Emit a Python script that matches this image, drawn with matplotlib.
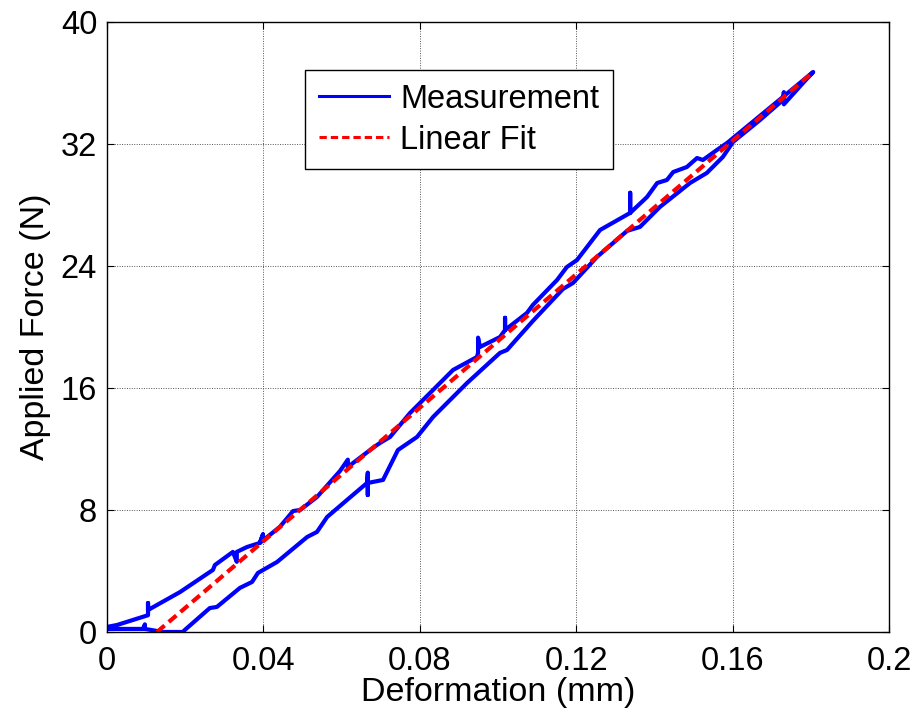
"""Force vs deformation loop with linear fit (MATLAB-style figure)."""

import matplotlib
matplotlib.use("Agg")
import matplotlib.pyplot as plt
import numpy as np

# Measurement loop: loading branch (lower), common top, unloading branch (upper)
load_x = [0.0, 0.0092, 0.0097, 0.0097, 0.0143, 0.0194, 0.0199, 0.0263, 0.0281,
          0.0340, 0.0371, 0.0386, 0.0435, 0.0512, 0.0537, 0.0563, 0.0614,
          0.0665, 0.0667, 0.0667, 0.0667, 0.0706, 0.0744, 0.0793, 0.0834,
          0.0921, 0.1005, 0.1023, 0.1089, 0.1166, 0.1192, 0.1253, 0.1330,
          0.1363, 0.1414, 0.1491, 0.1534, 0.1575, 0.1601]
load_y = [0.20, 0.20, 0.50, 0.20, 0.0, 0.0, 0.13, 1.57, 1.64,
          2.89, 3.28, 3.87, 4.59, 6.23, 6.56, 7.54, 8.66,
          9.77, 10.45, 8.98, 9.77, 9.97, 11.93, 12.79, 14.10,
          16.33, 18.30, 18.49, 20.39, 22.49, 22.89, 24.59, 26.30,
          26.56, 27.87, 29.44, 30.10, 31.15, 32.13]

top_x = [0.1670, 0.1729, 0.1731, 0.1731, 0.1780, 0.1806]
top_y = [33.57, 34.89, 35.40, 34.60, 36.00, 36.72]

unload_x = [0.1586, 0.1560, 0.1524, 0.1509, 0.1483, 0.1448, 0.1432, 0.1407,
            0.1381, 0.1338, 0.1338, 0.1338, 0.1261, 0.1202, 0.1176, 0.1151,
            0.1089, 0.1074, 0.1018, 0.1018, 0.1018, 0.1005, 0.0954, 0.0949,
            0.0949, 0.0946, 0.0885, 0.0775, 0.0724, 0.0698, 0.0680, 0.0616,
            0.0616, 0.0596, 0.0537, 0.0494, 0.0476, 0.0442, 0.0391, 0.0399,
            0.0391, 0.0358, 0.0332, 0.0332, 0.0322, 0.0276, 0.0271, 0.0187,
            0.0105, 0.0105, 0.0105, 0.0026, 0.0]
unload_y = [32.07, 31.61, 30.95, 31.08, 30.49, 30.16, 29.64, 29.44,
            28.52, 27.48, 28.80, 27.48, 26.36, 24.39, 23.93, 23.08,
            21.44, 20.92, 19.80, 20.60, 19.80, 19.34, 18.69, 19.30,
            18.30, 18.03, 17.18, 14.36, 12.79, 12.39, 12.07, 10.82,
            11.30, 10.56, 8.85, 8.00, 7.93, 6.89, 5.84, 6.40,
            5.84, 5.57, 5.25, 4.60, 5.25, 4.39, 4.07, 2.62,
            1.44, 1.90, 1.10, 0.46, 0.33]

meas_x = load_x + top_x + unload_x
meas_y = load_y + top_y + unload_y

# Linear fit end points
fit_x = [0.0128, 0.1806]
fit_y = [0.0, 36.72]

x_ticks = [0, 0.04, 0.08, 0.12, 0.16, 0.2]
x_labels = ["0", "0.04", "0.08", "0.12", "0.16", "0.2"]
y_ticks = [0, 8, 16, 24, 32, 40]

plt.rcParams["font.family"] = ["Liberation Sans", "DejaVu Sans"]

fig = plt.figure(figsize=(9.19, 7.23), dpi=100)
ax = fig.add_axes([0.1164, 0.1259, 0.851, 0.8437])

ax.plot(meas_x, meas_y, color="#0000ff", linewidth=3.0, label="Measurement",
        solid_joinstyle="round")
ax.plot(fit_x, fit_y, color="#ff0000", linestyle=(0, (2.4, 1.3)), linewidth=3.0,
        label="Linear Fit")

ax.set_xlim(0, 0.2)
ax.set_ylim(0, 40)
ax.set_xticks(x_ticks)
ax.set_xticklabels(x_labels)
ax.set_yticks(y_ticks)
ax.tick_params(direction="in", length=5, width=0.8, top=True, right=True,
               labelsize=23.5, colors="black", pad=7)
ax.tick_params(axis="x", pad=10)
ax.grid(True, color="#555555", linestyle=(0, (1, 1.5)), linewidth=0.7)
for sp in ax.spines.values():
    sp.set_linewidth(1.0)

ax.set_xlabel("Deformation (mm)", fontsize=24.5, labelpad=0)
ax.set_ylabel("Applied Force (N)", fontsize=24.5, labelpad=7)

leg = ax.legend(loc="upper left", bbox_to_anchor=(0.253, 0.921), fontsize=23.5,
                frameon=True, fancybox=False, framealpha=1, edgecolor="black",
                handlelength=2.15, borderpad=0.42, labelspacing=0.3,
                handletextpad=0.35, borderaxespad=0)
leg.get_frame().set_linewidth(1.0)
for line in leg.get_lines():
    line.set_linewidth(2.2)

fig.savefig("out.png", dpi=100)
